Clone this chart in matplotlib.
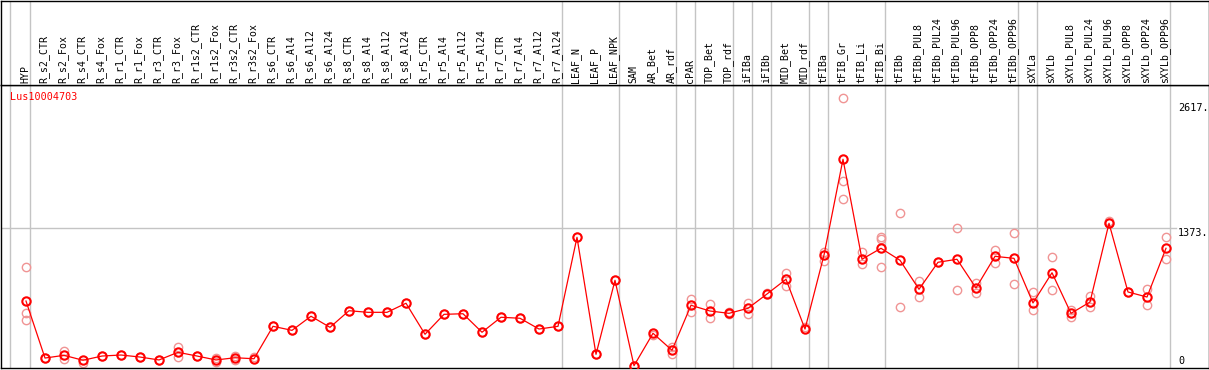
import matplotlib
matplotlib.use("Agg")
import matplotlib.pyplot as plt
import matplotlib.transforms as mtransforms

# ---------------- data ----------------
categories = ["HYP", "R_s2_CTR", "R_s2_Fox", "R_s4_CTR", "R_s4_Fox", "R_r1_CTR", "R_r1_Fox",
              "R_r3_CTR", "R_r3_Fox", "R_r1s2_CTR", "R_r1s2_Fox", "R_r3s2_CTR", "R_r3s2_Fox",
              "R_s6_CTR", "R_s6_Al4", "R_s6_Al12", "R_s6_Al24", "R_s8_CTR", "R_s8_Al4",
              "R_s8_Al12", "R_s8_Al24", "R_r5_CTR", "R_r5_Al4", "R_r5_Al12", "R_r5_Al24",
              "R_r7_CTR", "R_r7_Al4", "R_r7_Al12", "R_r7_Al24", "LEAF_N", "LEAF_P", "LEAF_NPK",
              "SAM", "AR_Bet", "AR_rdf", "cPAR", "TOP_Bet", "TOP_rdf", "iFIBa", "iFIBb",
              "MID_Bet", "MID_rdf", "tFIBa", "tFIB_Gr", "tFIB_Li", "tFIB_Bi", "tFIBb",
              "tFIBb_PUL8", "tFIBb_PUL24", "tFIBb_PUL96", "tFIBb_OPP8", "tFIBb_OPP24",
              "tFIBb_OPP96", "sXYLa", "sXYLb", "sXYLb_PUL8", "sXYLb_PUL24", "sXYLb_PUL96",
              "sXYLb_OPP8", "sXYLb_OPP24", "sXYLb_OPP96"]

mean_values = [651, 85, 112, 63, 105, 115, 95, 66, 142, 105, 66, 88, 78,
               400, 360, 500, 390, 555, 539, 539, 629, 321, 519, 525, 341,
               490, 480, 373, 400, 1284, 122, 857, 9, 331, 162, 609, 552, 529,
               579, 721, 867, 373, 1108, 2059, 1066, 1175, 1056, 768, 1036, 1066,
               781, 1095, 1075, 632, 932, 529, 641, 1423, 741, 691, 1175]

replicate_values = [
    [986, 529, 463], [85], [158, 72], [39], [105], [115], [95], [66], [195, 92], [105],
    [85, 49], [102, 66], [92], [400], [360], [500], [390], [555], [539], [539], [629],
    [321], [519], [525], [341], [490], [480], [373], [400], [1284], [122], [857], [9],
    [311], [195, 125], [674, 539], [622, 480], [545, 519], [632, 525], [734],
    [929, 800], [390], [1141, 1052], [2664, 1840, 1661], [1135, 1016], [1287, 1267, 986],
    [1522, 589], [847, 688], [1036], [1376, 758], [833, 734], [1155, 1032], [1327, 820],
    [738, 562], [1088, 761], [559, 496], [701, 589], [1449, 1429], [741], [771, 609],
    [1287, 1066]]

group_ends = [-1, 0, 28, 31, 34, 35, 37, 38, 39, 41, 42, 45, 52, 53, 60]

series_label = "Lus10004703"
ytick_values = [2617, 1373, 0]
ytick_labels = ["2617.", "1373.", "0"]

# ---------------- layout ----------------
W, H = 1209, 370
fig = plt.figure(figsize=(W / 100, H / 100), dpi=100)

x0_px, dx_px = 26.0, 19.0          # column centre of first column, spacing
ax_l, ax_r = 1.0, 1208.5
hdr_bot, plot_bot = 85.0, 368.0
y0_px, ppu = 366.6, 0.1007          # pixel of value 0, pixels per unit

xlim = ((ax_l - x0_px) / dx_px, (ax_r - x0_px) / dx_px)
ylim = ((y0_px - plot_bot) / ppu, (y0_px - hdr_bot) / ppu)

ax = fig.add_axes([ax_l / W, (H - plot_bot) / H, (ax_r - ax_l) / W, (plot_bot - hdr_bot) / H])
axh = fig.add_axes([ax_l / W, (H - hdr_bot) / H, (ax_r - ax_l) / W, (hdr_bot - 0.5) / H])

for a in (ax, axh):
    a.set_xlim(*xlim)
    a.set_xticks([])
    a.set_yticks([])
    for s in a.spines.values():
        s.set_color("black")
        s.set_linewidth(1.0)
ax.set_ylim(*ylim)
axh.set_ylim(0, 1)

grid_c = "#c4c4c4"
sep_x = [g + 0.23 if g >= 0 else -0.83 for g in group_ends]
for a in (ax, axh):
    for sx in sep_x:
        a.axvline(sx, color=grid_c, lw=1.0, zorder=0)

x_idx = list(range(len(categories)))
grid_end_frac = (1176 - ax_l) / (ax_r - ax_l)
ax.axhline(ytick_values[1], xmin=0, xmax=grid_end_frac, color=grid_c, lw=1.0, zorder=0)

mono = "DejaVu Sans Mono"
# replicates
rx, ry = [], []
for i, reps in enumerate(replicate_values):
    for v in reps:
        rx.append(i)
        ry.append(v)
ax.plot(rx, ry, linestyle="none", marker="o", ms=6.0, mfc="none",
        mec="#f09494", mew=1.0, zorder=2)
# mean line
ax.plot(x_idx, mean_values, color="#ff0000", lw=0.9, marker="o", ms=6.0,
        mfc="none", mec="#ff0000", mew=1.5, zorder=3)

# header labels
for i, lab in enumerate(categories):
    axh.text(i - 1.0 / dx_px, 2.0 / (hdr_bot - 0.5), lab, rotation=90, ha="center",
             va="bottom", fontsize=7.1, family=mono, color="black")

# series label
ax.text(9.0 / (ax_r - ax_l), 1 - 7.0 / (plot_bot - hdr_bot), series_label,
        transform=ax.transAxes, ha="left", va="top", fontsize=7.3, family=mono,
        color="#ff0000")

# right axis labels
lab_x = (1178 - x0_px) / dx_px
for v, t in zip(ytick_values, ytick_labels):
    if v > 0:
        off = mtransforms.offset_copy(ax.transData, fig=fig, x=0, y=0.5, units="dots")
        ax.text(lab_x, v, t, transform=off, ha="left", va="top", fontsize=7.3,
                family=mono, color="black")
    else:
        off = mtransforms.offset_copy(ax.transData, fig=fig, x=0, y=1, units="dots")
        ax.text(lab_x, v, t, transform=off, ha="left", va="bottom", fontsize=7.3,
                family=mono, color="black")

fig.savefig("out.png", dpi=100)
